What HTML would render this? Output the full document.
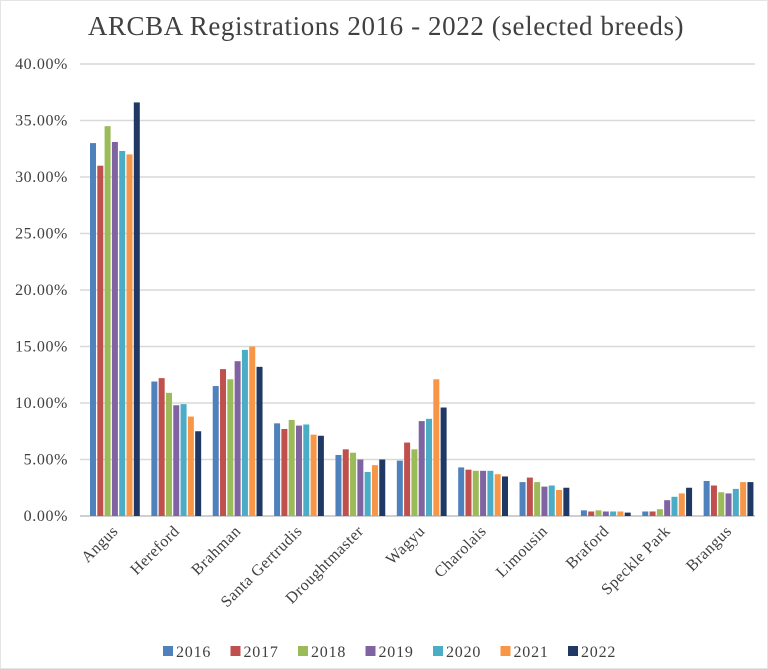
<!DOCTYPE html>
<html><head><meta charset="utf-8"><style>
body{margin:0;background:#fff;}
svg{display:block;font-family:"Liberation Serif",serif;}
</style></head><body>
<svg id="chart" width="768" height="669">
<rect x="0.5" y="0.5" width="767" height="668" fill="#fff" stroke="#e4e4e4"/>
<text x="386" y="35" text-anchor="middle" font-size="27" letter-spacing="0.6" fill="#404040">ARCBA Registrations 2016 - 2022 (selected breeds)</text>
<g id="grid"></g><g id="bars"></g><g id="xlabels"></g><g id="legend"></g>
</svg>
<script>
const categories=["Angus","Hereford","Brahman","Santa Gertrudis","Droughtmaster","Wagyu","Charolais","Limousin","Braford","Speckle Park","Brangus"];
const years=["2016","2017","2018","2019","2020","2021","2022"];
const colors=["#4f81bd","#c0504d","#9bbb59","#8064a2","#4bacc6","#f79646","#1f3864"];
const s2016=[33.0,11.9,11.5,8.2,5.4,4.9,4.3,3.0,0.5,0.4,3.1];
const s2017=[31.0,12.2,13.0,7.7,5.9,6.5,4.1,3.4,0.4,0.4,2.7];
const s2018=[34.5,10.9,12.1,8.5,5.6,5.9,4.0,3.0,0.5,0.6,2.1];
const s2019=[33.1,9.8,13.7,8.0,5.0,8.4,4.0,2.6,0.4,1.4,2.0];
const s2020=[32.3,9.9,14.7,8.1,3.9,8.6,4.0,2.7,0.4,1.7,2.4];
const s2021=[32.0,8.8,15.0,7.2,4.5,12.1,3.7,2.3,0.4,2.0,3.0];
const s2022=[36.6,7.5,13.2,7.1,5.0,9.6,3.5,2.5,0.3,2.5,3.0];
const series=[s2016,s2017,s2018,s2019,s2020,s2021,s2022];
const yTicks=[0,5,10,15,20,25,30,35,40];
const NS="http://www.w3.org/2000/svg";
const X0=80,X1=755,Y0=516,Y1=64,YMAX=40;
const band=(X1-X0)/categories.length;
const y=v=>Y0-(v/YMAX)*(Y0-Y1);
const xc=i=>X0+band*i;
function mk(t,a,p){const e=document.createElementNS(NS,t);for(const k in a)e.setAttribute(k,a[k]);p.appendChild(e);return e;}
const grid=document.getElementById('grid');
yTicks.forEach(t=>{
  const l=mk('line',{x1:X0,x2:X1,y1:y(t),y2:y(t),stroke:t===0?'#bfbfbf':'#d9d9d9','stroke-width':1.5},grid);
  
  
  const tx=mk('text',{x:68,y:y(t)+5,'text-anchor':'end','font-size':16,'letter-spacing':0.6,fill:'#404040'},grid);
  tx.textContent=t.toFixed(2)+'%';
  
  
});
const bars=document.getElementById('bars');
const bw=6,step=7.3,off=10;
categories.forEach((c,i)=>{
  series.forEach((s,j)=>{
    const r=mk('rect',{x:xc(i)+off+j*step,y:y(s[i]),width:bw,height:Y0-y(s[i]),fill:colors[j]},bars);
    
    
  });
  const cx=xc(i)+off+3*step+3;
  const tx=mk('text',{x:cx+4,y:Y0+16,'text-anchor':'end','font-size':16,'letter-spacing':0.5,fill:'#404040',transform:`rotate(-45 ${cx+4} ${Y0+16})`},document.getElementById('xlabels'));
  tx.textContent=c;
  
  
});
const lg=document.getElementById('legend');
years.forEach((yr,j)=>{
  const lx=163+j*67.5;
  const r=mk('rect',{x:lx,y:646,width:10,height:10,fill:colors[j]},lg);
  
  
  const t=mk('text',{x:lx+13,y:657,'font-size':16,'letter-spacing':0.8,fill:'#404040'},lg);
  t.textContent=yr;
  
  
});
</script>
</body></html>
